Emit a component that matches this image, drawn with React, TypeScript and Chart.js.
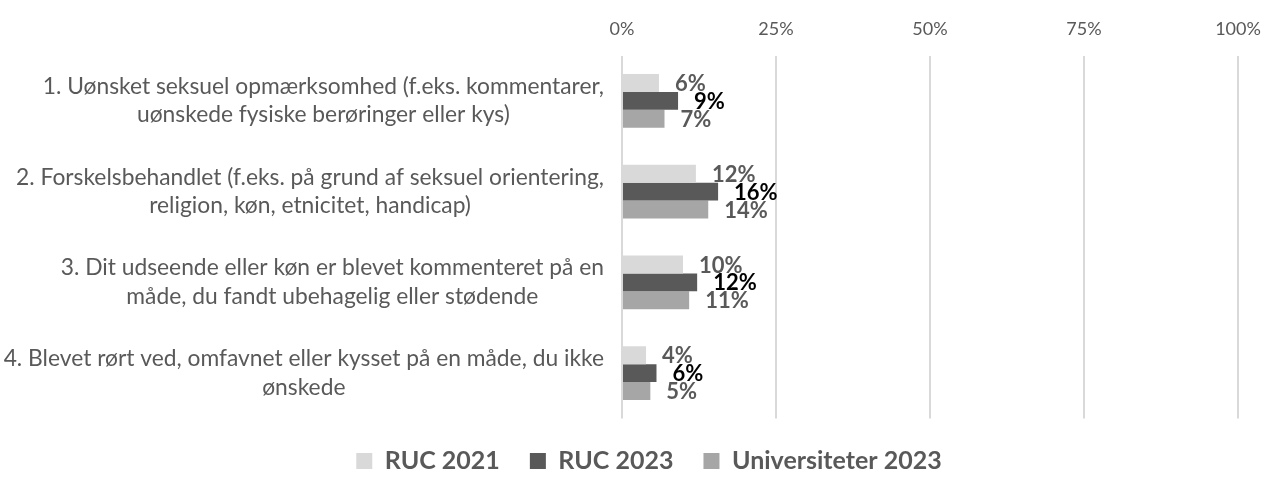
import React, { useEffect, useRef } from 'react';
import { Chart, registerables } from 'chart.js';

Chart.register(...registerables);

// ---- data ----
const categories: string[][] = [
  ['1. Uønsket seksuel opmærksomhed (f.eks. kommentarer,', 'uønskede fysiske berøringer eller kys)'],
  ['2. Forskelsbehandlet (f.eks. på grund af seksuel orientering,', 'religion, køn, etnicitet, handicap)'],
  ['3. Dit udseende eller køn er blevet kommenteret på en', 'måde, du fandt ubehagelig eller stødende'],
  ['4. Blevet rørt ved, omfavnet eller kysset på en måde, du ikke', 'ønskede'],
];
const seriesNames = ['RUC 2021', 'RUC 2023', 'Universiteter 2023'];
const ruc2021 = [6.0, 12.0, 9.9, 3.9];
const ruc2023 = [9.1, 15.6, 12.2, 5.6];
const universiteter2023 = [6.9, 14.0, 10.9, 4.6];
const xTickValues = [0, 25, 50, 75, 100];

// ---- styles ----
const FONT = 'Lato, "Open Sans", sans-serif';
const seriesColors = ['#d9d9d9', '#595959', '#a6a6a6'];
const labelColors = ['#595959', '#000000', '#595959'];
const TEXT_GRAY = '#595959';

const categoryLabelPlugin = {
  id: 'categoryLabels',
  afterDraw(chart: any) {
    const { ctx, chartArea } = chart;
    const yScale = chart.scales.y;
    ctx.save();
    ctx.font = `22.8px ${FONT}`;
    ctx.fillStyle = TEXT_GRAY;
    ctx.textAlign = 'center';
    ctx.textBaseline = 'middle';
    const lh = 28.5;
    const right = chartArea.left - 18;
    categories.forEach((lines, i) => {
      const maxW = Math.max(...lines.map((l) => ctx.measureText(l).width));
      const cx = right - maxW / 2;
      const cy = yScale.getPixelForValue(i);
      const y0 = cy - ((lines.length - 1) * lh) / 2;
      lines.forEach((line, j) => ctx.fillText(line, cx, y0 + j * lh));
    });
    ctx.restore();
  },
};

const barLabelPlugin = {
  id: 'barLabels',
  afterDatasetsDraw(chart: any) {
    const { ctx } = chart;
    ctx.save();
    ctx.font = `bold 22px ${FONT}`;
    ctx.textAlign = 'left';
    ctx.textBaseline = 'middle';
    chart.data.datasets.forEach((ds: any, di: number) => {
      const meta = chart.getDatasetMeta(di);
      ctx.fillStyle = labelColors[di];
      meta.data.forEach((el: any, i: number) => {
        const v = ds.data[i];
        ctx.fillText(`${Math.round(v)}%`, el.x + 16, el.y + 1);
      });
    });
    ctx.restore();
  },
};

const legendFitPlugin = {
  id: 'legendFit',
  beforeLayout(chart: any) {
    const lg = chart.legend;
    if (lg && !lg.__patched) {
      const orig = lg.fit;
      lg.fit = function () {
        orig.call(this);
        this.height = 64.5;
      };
      lg.__patched = true;
    }
  },
};

export default function App() {
  const ref = useRef<HTMLCanvasElement | null>(null);
  useEffect(() => {
    if (!ref.current) return;
    const chart = new Chart(ref.current, {
      type: 'bar',
      data: {
        labels: categories.map((c) => c.join(' ')),
        datasets: [
          { label: seriesNames[0], data: ruc2021, backgroundColor: seriesColors[0], borderWidth: 0 },
          { label: seriesNames[1], data: ruc2023, backgroundColor: seriesColors[1], borderWidth: 0 },
          { label: seriesNames[2], data: universiteter2023, backgroundColor: seriesColors[2], borderWidth: 0 },
        ],
      },
      options: {
        indexAxis: 'y',
        animation: false,
        responsive: true,
        maintainAspectRatio: false,
        layout: { padding: { left: 60, right: 29, top: 0, bottom: 0 } },
        datasets: { bar: { categoryPercentage: 0.593, barPercentage: 1 } },
        scales: {
          x: {
            position: 'top',
            min: 0,
            max: 100,
            afterFit: (s: any) => {
              s.height = 55.5;
              s.paddingLeft = 0;
              s.paddingRight = 0;
            },
            afterBuildTicks: (s: any) => {
              s.ticks = xTickValues.map((v) => ({ value: v }));
            },
            ticks: {
              callback: (v: any) => `${v}%`,
              color: TEXT_GRAY,
              font: { family: FONT, size: 18 },
              padding: 16,
            },
            grid: { color: '#d9d9d9', lineWidth: 2, drawTicks: false },
            border: { display: false },
          },
          y: {
            afterFit: (s: any) => {
              s.width = 562;
            },
            ticks: { display: false },
            grid: { display: false },
            border: { display: false },
          },
        },
        plugins: {
          legend: {
            position: 'bottom',
            labels: {
              boxWidth: 16,
              boxHeight: 16,
              padding: 30,
              color: TEXT_GRAY,
              font: { family: FONT, size: 25, weight: 'bold' },
            },
          },
          tooltip: { enabled: false },
        },
      },
      plugins: [categoryLabelPlugin, barLabelPlugin, legendFitPlugin],
    } as any);
    return () => chart.destroy();
  }, []);
  return (
    <div style={{ position: 'fixed', left: 0, top: 0, width: '1267px', height: '483px', background: '#fff' }}>
      <canvas ref={ref} />
    </div>
  );
}
